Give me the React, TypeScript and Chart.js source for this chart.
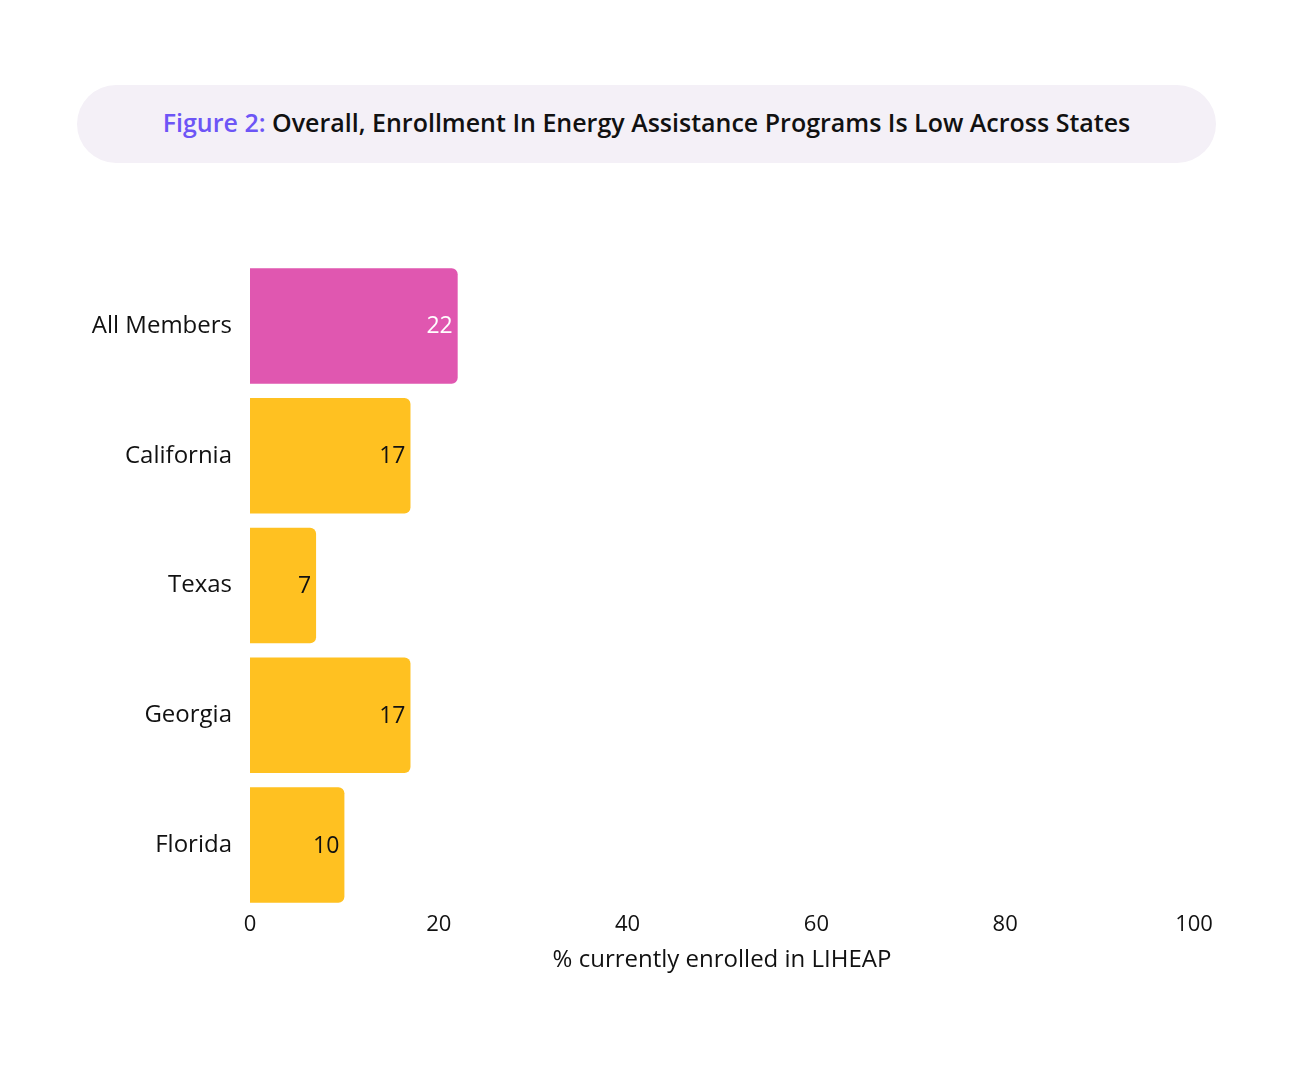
import React, { useEffect, useRef } from "react";
import { Chart, registerables } from "chart.js";

Chart.register(...registerables);

const categories: string[] = ["All Members", "California", "Texas", "Georgia", "Florida"];
const values: number[] = [22, 17, 7, 17, 10];
const barColors: string[] = ["#E057B0", "#FFC121", "#FFC121", "#FFC121", "#FFC121"];
const labelColors: string[] = ["#FFFFFF", "#111111", "#111111", "#111111", "#111111"];
const xTicks: number[] = [0, 20, 40, 60, 80, 100];
const titlePrefix = "Figure 2:";
const titleText = " Overall, Enrollment In Energy Assistance Programs Is Low Across States";
const xAxisTitle = "% currently enrolled in LIHEAP";

const FONT = "'Open Sans', 'DejaVu Sans', sans-serif";

const valueLabelPlugin = {
  id: "valueLabels",
  afterDatasetsDraw(chart: any) {
    const ctx = chart.ctx;
    const meta = chart.getDatasetMeta(0);
    ctx.save();
    ctx.font = `400 23px ${FONT}`;
    ctx.textAlign = "right";
    ctx.textBaseline = "middle";
    meta.data.forEach((bar: any, i: number) => {
      ctx.fillStyle = labelColors[i];
      ctx.fillText(String(values[i]), bar.x - 5, bar.y + 1);
    });
    ctx.restore();
  },
};

export default function App() {
  const canvasRef = useRef<HTMLCanvasElement | null>(null);

  useEffect(() => {
    if (!canvasRef.current) return;
    const chart = new Chart(canvasRef.current, {
      type: "bar",
      data: {
        labels: categories,
        datasets: [
          {
            data: values,
            backgroundColor: barColors,
            borderRadius: 6,
            borderSkipped: "start",
            barPercentage: 0.89,
            categoryPercentage: 1,
          },
        ],
      },
      options: {
        indexAxis: "y",
        animation: false,
        responsive: false,
        maintainAspectRatio: false,
        layout: { padding: { top: 261, right: 99, bottom: 108, left: 0 } },
        plugins: {
          legend: { display: false },
          tooltip: { enabled: false },
        },
        scales: {
          x: {
            min: 0,
            max: 100,
            afterBuildTicks(scale: any) {
              scale.ticks = xTicks.map((v) => ({ value: v }));
            },
            afterFit(scale: any) {
              scale.height = 66;
            },
            grid: { display: false, drawTicks: false },
            border: { display: false },
            ticks: {
              padding: 2,
              color: "#111111",
              font: { family: FONT, size: 22 },
              maxRotation: 0,
            },
            title: {
              display: true,
              text: xAxisTitle,
              color: "#111111",
              font: { family: FONT, size: 24 },
              padding: { top: 0, bottom: 1 },
            },
          },
          y: {
            afterFit(scale: any) {
              scale.width = 250;
            },
            grid: { display: false, drawTicks: false },
            border: { display: false },
            ticks: {
              padding: 18,
              color: "#111111",
              font: { family: FONT, size: 24 },
            },
          },
        },
      },
      plugins: [valueLabelPlugin],
    });
    return () => chart.destroy();
  }, []);

  return (
    <div style={{ position: "absolute", left: 0, top: 0, width: 1293, height: 1084, background: "#ffffff" }}>
      <div
        style={{
          position: "absolute",
          left: 77,
          top: 85,
          width: 1139,
          height: 78,
          boxSizing: "border-box",
          paddingBottom: 5,
          borderRadius: 39,
          background: "#F4F0F7",
          display: "flex",
          alignItems: "center",
          justifyContent: "center",
          fontFamily: FONT,
          fontWeight: 600,
          fontSize: 25,
          color: "#111111",
          whiteSpace: "nowrap",
        }}
      >
        <span style={{ color: "#6D55F6" }}>{titlePrefix}</span>
        <span style={{ whiteSpace: "pre" }}>{titleText}</span>
      </div>
      <canvas ref={canvasRef} width={1293} height={1084} style={{ position: "absolute", left: 0, top: 0 }} />
    </div>
  );
}
